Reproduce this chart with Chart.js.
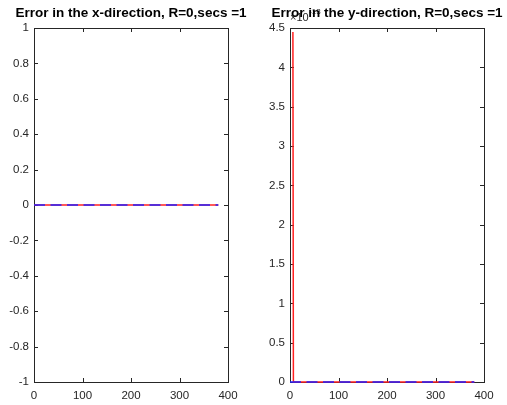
<!DOCTYPE html>
<html>
<head>
<meta charset="utf-8">
<script src="https://cdn.jsdelivr.net/npm/chart.js@4.4.1/dist/chart.umd.min.js"></script>
<style>
  body { margin: 0; background: #fff; }
  canvas { position: absolute; top: 0; }
</style>
</head>
<body>
<canvas id="chartX" width="253" height="405" style="left:0px"></canvas>
<canvas id="chartY" width="254" height="405" style="left:253px"></canvas>
<script>
// left panel: error in x (both traces sit on zero)
const xTimeEst = [0, 380];
const xErrEst = [0, 0];
const xTimeRef = [0, 380];
const xErrRef = [0, 0];

// right panel: error in y, values in units of 1e-13
const yTimeEst = [6, 7, 380];
const yErrEst = [4.45, 0, 0];
const yTimeRef = [0, 380];
const yErrRef = [0, 0];

const xTicks = [0, 100, 200, 300, 400];
const leftYTicks = [-1, -0.8, -0.6, -0.4, -0.2, 0, 0.2, 0.4, 0.6, 0.8, 1];
const rightYTicks = [0, 0.5, 1, 1.5, 2, 2.5, 3, 3.5, 4, 4.5];

const FONT = "'Liberation Sans', Arial, Helvetica, sans-serif";
const AXIS_COLOR = '#262626';

function toPoints(xs, ys) {
    return xs.map((x, i) => ({ x: x, y: ys[i] }));
}

// matlab style box with ticks pointing inwards, plus title and exponent
const boxPlugin = {
    id: 'matlabBox',
    beforeDraw(chart, args, opts) {
        if (!opts.exponent) return;
        // exponent label sits under the title, like in the original figure
        const ctx = chart.ctx;
        const a = chart.chartArea;
        ctx.save();
        ctx.fillStyle = AXIS_COLOR;
        ctx.textBaseline = 'alphabetic';
        ctx.font = '11px ' + FONT;
        ctx.fillText('\u00d710', a.left, a.top - 7);
        const w = ctx.measureText('\u00d710').width;
        ctx.font = '8px ' + FONT;
        ctx.fillText(opts.exponent, a.left + w + 0.5, a.top - 14);
        ctx.restore();
    },
    beforeDatasetsDraw(chart) {
        const ctx = chart.ctx;
        const a = chart.chartArea;
        const xs = chart.scales.x;
        const ys = chart.scales.y;
        const len = 4;
        ctx.save();
        ctx.strokeStyle = AXIS_COLOR;
        ctx.lineWidth = 1;
        ctx.strokeRect(Math.round(a.left) + 0.5, Math.round(a.top) + 0.5,
            Math.round(a.right - a.left), Math.round(a.bottom - a.top));
        ctx.beginPath();
        xs.ticks.forEach(t => {
            const px = Math.round(xs.getPixelForValue(t.value)) + 0.5;
            ctx.moveTo(px, a.bottom);
            ctx.lineTo(px, a.bottom - len);
            ctx.moveTo(px, a.top);
            ctx.lineTo(px, a.top + len);
        });
        ys.ticks.forEach(t => {
            const py = Math.round(ys.getPixelForValue(t.value)) + 0.5;
            ctx.moveTo(a.left, py);
            ctx.lineTo(a.left + len, py);
            ctx.moveTo(a.right, py);
            ctx.lineTo(a.right - len, py);
        });
        ctx.stroke();
        ctx.restore();
    },
    afterDraw(chart, args, opts) {
        // title centred over the axes box, allowed to run wider than it
        const ctx = chart.ctx;
        const a = chart.chartArea;
        ctx.save();
        ctx.fillStyle = '#000';
        ctx.font = 'bold 13.5px ' + FONT;
        ctx.textAlign = 'center';
        ctx.textBaseline = 'middle';
        ctx.fillText(opts.title, (a.left + a.right) / 2, 13);
        ctx.restore();
    }
};

function makeChart(id, cfg) {
    const canvas = document.getElementById(id);
    return new Chart(canvas, {
        type: 'line',
        data: {
            datasets: [{
                data: toPoints(cfg.estX, cfg.estY),
                borderColor: '#ff2020',
                borderWidth: 1.5,
                pointRadius: 0,
                tension: 0,
                clip: false,
                order: 2
            }, {
                data: toPoints(cfg.refX, cfg.refY),
                borderColor: '#2020ff',
                borderWidth: 1.5,
                borderDash: [11, 5.5],
                pointRadius: 0,
                tension: 0,
                clip: false,
                order: 1
            }]
        },
        options: {
            responsive: false,
            animation: false,
            devicePixelRatio: 1,
            layout: { padding: { left: 0, right: cfg.rightPad, top: 28, bottom: 0 } },
            plugins: {
                legend: { display: false },
                tooltip: { enabled: false },
                title: { display: false },
                matlabBox: { exponent: cfg.exponent, title: cfg.title }
            },
            scales: {
                x: {
                    type: 'linear',
                    min: 0,
                    max: 400,
                    grid: { display: false, drawTicks: false },
                    border: { display: false },
                    afterBuildTicks: s => { s.ticks = xTicks.map(v => ({ value: v })); },
                    afterFit: s => { s.height = 23; },
                    ticks: {
                        autoSkip: false,
                        maxRotation: 0,
                        padding: 7,
                        color: AXIS_COLOR,
                        font: { family: FONT, size: 11.5 }
                    }
                },
                y: {
                    type: 'linear',
                    min: cfg.yTicks[0],
                    max: cfg.yTicks[cfg.yTicks.length - 1],
                    grid: { display: false, drawTicks: false },
                    border: { display: false },
                    afterBuildTicks: s => { s.ticks = cfg.yTicks.map(v => ({ value: v })); },
                    afterFit: s => { s.width = cfg.yAxisWidth; },
                    ticks: {
                        autoSkip: false,
                        padding: 5,
                        color: AXIS_COLOR,
                        font: { family: FONT, size: 11.5 },
                        callback: v => String(v)
                    }
                }
            }
        },
        plugins: [boxPlugin]
    });
}

makeChart('chartX', {
    title: 'Error in the x-direction, R=0,secs =1',
    estX: xTimeEst, estY: xErrEst,
    refX: xTimeRef, refY: xErrRef,
    yTicks: leftYTicks,
    yAxisWidth: 34,
    rightPad: 25,
    exponent: null
});

makeChart('chartY', {
    title: 'Error in the y-direction, R=0,secs =1',
    estX: yTimeEst, estY: yErrEst,
    refX: yTimeRef, refY: yErrRef,
    yTicks: rightYTicks,
    yAxisWidth: 37,
    rightPad: 23,
    exponent: '-13'
});
</script>
</body>
</html>
